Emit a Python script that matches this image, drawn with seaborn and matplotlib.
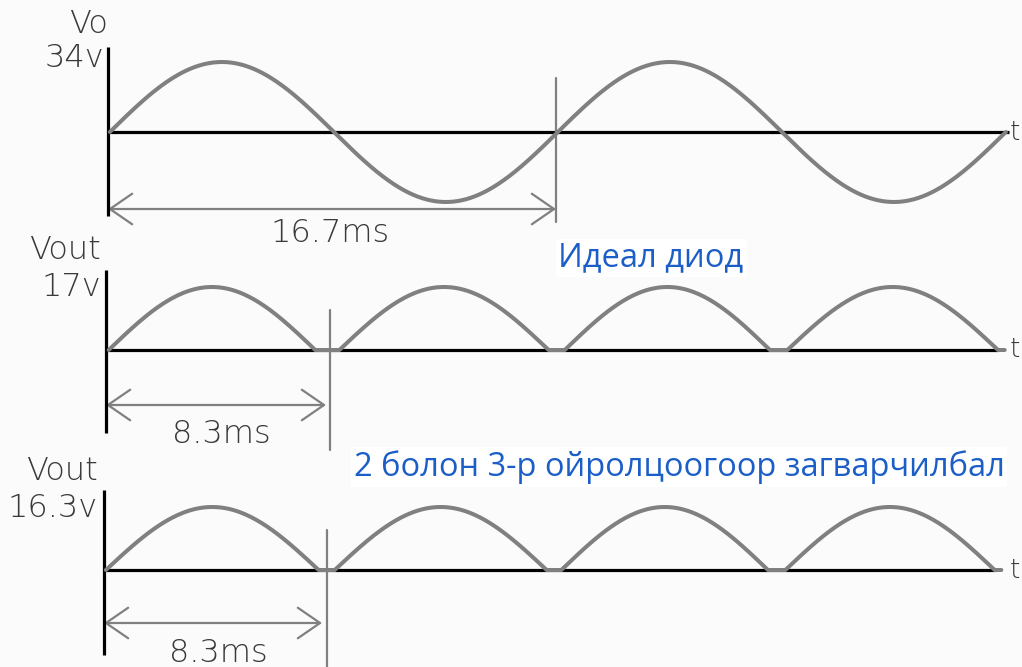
import numpy as np
import pandas as pd
import seaborn as sns
import matplotlib.pyplot as plt
from matplotlib.patches import FancyArrowPatch

sns.set_theme(style="white")
plt.rcParams["font.family"] = ["DejaVu Sans"]

# ---- signal values ----
period_ms = 16.7          # input sine period
half_period_ms = 8.3      # rectified ripple period
vo_peak = 34              # input peak voltage
vout_ideal = 17           # output peak, ideal diode
vout_approx = 16.3        # output peak, 2nd/3rd approximation
n_cycles = 2

# start/end (ms) of each rectified hump; flat zero between them
ideal_humps = [(0.10, 7.80), (8.70, 16.50), (17.10, 24.75), (25.40, 33.25)]
ideal_end = 33.50
approx_humps = [(0.07, 8.00), (8.60, 16.50), (17.05, 24.75), (25.40, 33.20)]
approx_end = 33.45

top_labels = ["Vo", "34v"]
mid_labels = ["Vout", "17v"]
bot_labels = ["Vout", "16.3v"]
time_labels = ["16.7ms", "8.3ms", "8.3ms"]
axis_name = "t"
caption_ideal = "Идеал диод"
caption_approx = "2 болон 3-р ойролцоогоор загварчилбал"

# ---- drawing setup ----
W, H = 1022, 667
K = 448 / period_ms  # pixels per millisecond
WAVE = "#808080"
INK = "#3a3a3a"
BLUE = "#1c5ec8"

fig = plt.figure(figsize=(W / 100, H / 100), dpi=100)
fig.patch.set_facecolor("#fbfbfb")


def make_panel(x0, base, peak_px, peak_v):
    ax = fig.add_axes([0, 0, 1, 1])
    ax.patch.set_alpha(0)
    ax.axis("off")
    s = (base - peak_px) / peak_v
    ax.set_xlim(-x0 / K, (W - x0) / K)
    ax.set_ylim(-(H - base) / s, base / s)
    return ax, s


def fx(px):
    return px / W


def fy(py):
    return 1 - py / H


def rectified(humps, end, peak):
    t, v = [], []
    for a, b in humps:
        tt = np.linspace(a, b, 120)
        t.extend(tt)
        v.extend(peak * np.sin(np.pi * (tt - a) / (b - a)))
    t.append(end)
    v.append(0.0)
    return pd.DataFrame({"t": t, "v": v})


def dim_arrow(ax, t1, v):
    ax.add_patch(FancyArrowPatch((0, v), (t1, v), arrowstyle="<->,head_length=0.8,head_width=0.55",
                                 mutation_scale=20, color=WAVE, lw=1.6,
                                 shrinkA=0, shrinkB=0))


# ---- top: input sine ----
ax1, s1 = make_panel(108, 132, 62, vo_peak)
t_in = np.linspace(0.07, 0.07 + n_cycles * period_ms, 800)
df_in = pd.DataFrame({"t": t_in, "v": vo_peak * np.sin(2 * np.pi * (t_in - 0.07) / period_ms)})
ax1.plot([0, (1009 - 108) / K], [0, 0], color="black", lw=2.3, solid_capstyle="butt")
ax1.plot([0, 0], [(132 - 47) / s1, (132 - 216) / s1], color="black", lw=2.3, solid_capstyle="butt")
sns.lineplot(data=df_in, x="t", y="v", ax=ax1, color=WAVE, lw=2.9, sort=False, estimator=None)
ax1.plot([period_ms, period_ms], [(132 - 78) / s1, (132 - 222) / s1], color=WAVE, lw=1.6)
dim_arrow(ax1, period_ms, (132 - 209) / s1)

# ---- middle: ideal diode ----
ax2, s2 = make_panel(106, 350, 287, vout_ideal)
ax2.plot([0, ideal_humps[-1][1]], [0, 0], color="black", lw=2.3, solid_capstyle="butt")
ax2.plot([0, 0], [(350 - 270) / s2, (350 - 433) / s2], color="black", lw=2.3, solid_capstyle="butt")
sns.lineplot(data=rectified(ideal_humps, ideal_end, vout_ideal), x="t", y="v", ax=ax2,
             color=WAVE, lw=2.9, sort=False, estimator=None)
t_mark2 = (330 - 106) / K
ax2.plot([t_mark2, t_mark2], [(350 - 310) / s2, (350 - 450) / s2], color=WAVE, lw=1.6)
dim_arrow(ax2, (326 - 106) / K, (350 - 405) / s2)

# ---- bottom: 2nd/3rd approximation ----
ax3, s3 = make_panel(104, 570, 507, vout_approx)
ax3.plot([0, approx_humps[-1][1]], [0, 0], color="black", lw=2.3, solid_capstyle="butt")
ax3.plot([0, 0], [(570 - 490) / s3, (570 - 655) / s3], color="black", lw=2.3, solid_capstyle="butt")
sns.lineplot(data=rectified(approx_humps, approx_end, vout_approx), x="t", y="v", ax=ax3,
             color=WAVE, lw=2.9, sort=False, estimator=None)
t_mark3 = (327 - 104) / K
ax3.plot([t_mark3, t_mark3], [(570 - 530) / s3, (570 - 670) / s3], color=WAVE, lw=1.6)
dim_arrow(ax3, (322 - 104) / K, (570 - 623) / s3)

for ax in (ax1, ax2, ax3):
    leg = ax.get_legend()
    if leg:
        leg.remove()

# ---- text ----
lab = dict(color=INK, fontsize=23, fontweight="light")
fig.text(fx(108), fy(24), top_labels[0], ha="right", va="center", **lab)
fig.text(fx(104), fy(58), top_labels[1], ha="right", va="center", **lab)
fig.text(fx(101), fy(250), mid_labels[0], ha="right", va="center", **lab)
fig.text(fx(101), fy(287), mid_labels[1], ha="right", va="center", **lab)
fig.text(fx(98), fy(471), bot_labels[0], ha="right", va="center", **lab)
fig.text(fx(98), fy(508), bot_labels[1], ha="right", va="center", **lab)
fig.text(fx(330), fy(233), time_labels[0], ha="center", va="center", **lab)
fig.text(fx(221), fy(434), time_labels[1], ha="center", va="center", **lab)
fig.text(fx(218), fy(653), time_labels[2], ha="center", va="center", **lab)
lab_t = dict(lab, fontsize=19)
for py in (132, 350, 570):
    fig.text(fx(1020), fy(py), axis_name, ha="right", va="center", **lab_t)

cap = dict(color=BLUE, fontsize=23.5, family=["Open Sans", "DejaVu Sans"],
           bbox=dict(facecolor="white", edgecolor="none", pad=2))
fig.text(fx(651), fy(258), caption_ideal, ha="center", va="center", **cap)
fig.text(fx(679), fy(467), caption_approx, ha="center", va="center", **cap)

fig.savefig("out.png", dpi=100, facecolor=fig.get_facecolor())
